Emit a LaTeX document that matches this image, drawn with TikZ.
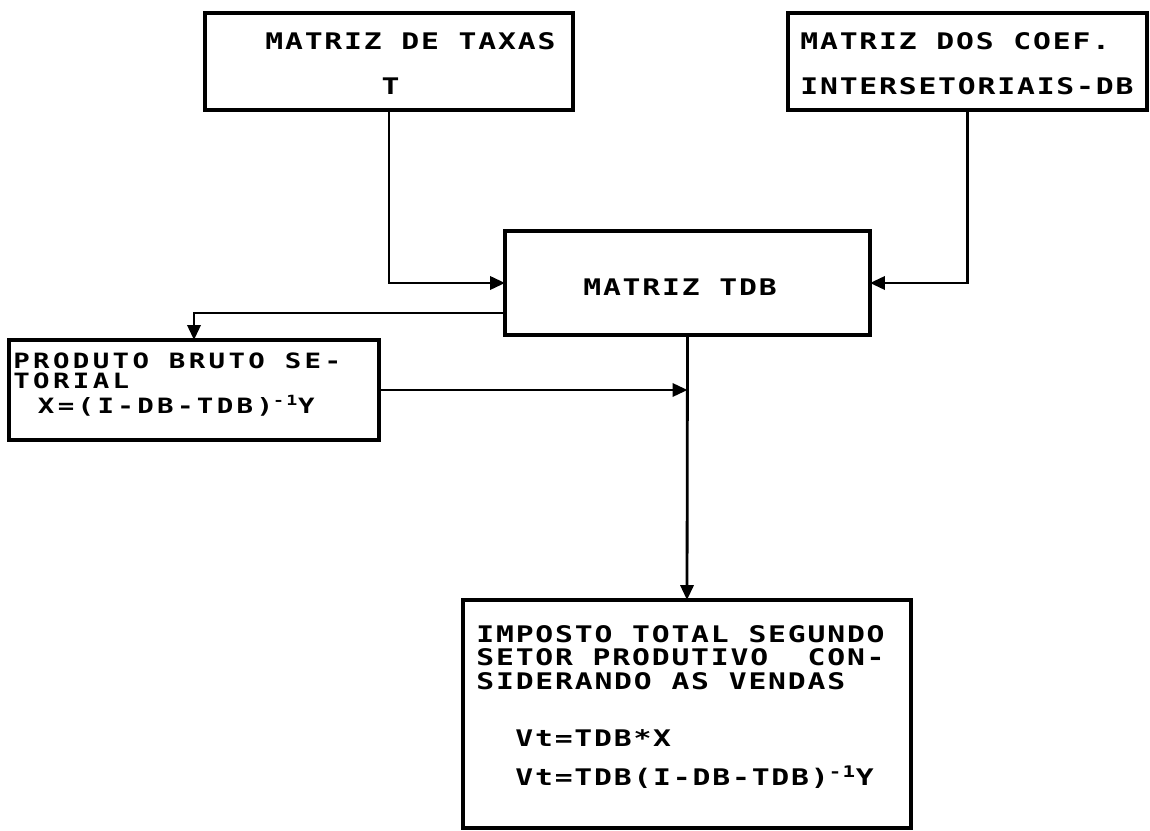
\documentclass[tikz,border=0pt]{standalone}
\usepackage{fontspec}
\usetikzlibrary{arrows.meta}
\newfontfamily\termfont[FakeStretch=1.3,LetterSpace=8]{DejaVu Sans Mono}
\newfontfamily\termwide[FakeStretch=1.3,LetterSpace=16]{DejaVu Sans Mono}

\tikzset{
  box/.style={draw, rectangle, line width=2.2pt, inner sep=0pt, outer sep=0pt},
  txt/.style={inner sep=0pt, align=left, font=\termfont\bfseries\fontsize{13}{#1}\selectfont},
  txt/.default=16,
  flow/.style={line width=1.6pt, -{Triangle[length=8.5pt,width=7.5pt]}},
}

\begin{document}
\begin{tikzpicture}[x=0.02cm, y=-0.02cm]
    \useasboundingbox (0,0) rectangle (1150,831);

    % Input matrices
    \node[box, minimum width=7.36cm, minimum height=1.94cm] (T) at (389,61.5) {};
    \node[txt=25.6, anchor=north west] (Ttext) at (265,32) {MATRIZ DE TAXAS\\\phantom{MATRIZ}T};
    \node[box, minimum width=7.18cm, minimum height=1.94cm] (DB) at (967.5,61.5) {};
    \node[txt=25.6, anchor=north west] (DBtext) at (800,32) {MATRIZ DOS COEF.\\INTERSETORIAIS-DB};

    % Product matrix
    \node[box, minimum width=7.3cm, minimum height=2.08cm] (TDB) at (687.5,283) {};
    \node[txt] (TDBtext) at (680,287) {MATRIZ TDB};

    % Gross product
    \node[box, minimum width=7.4cm, minimum height=2cm] (PB) at (194,390) {};
    \node[txt, anchor=north west, font=\termwide\bfseries\fontsize{12}{11.6}\selectfont] (PBtext) at (13,352)
        {PRODUTO BRUTO SE-\\TORIAL\\[2.5pt]\hspace*{14pt}X=(I-DB-TDB)\textsuperscript{-1}Y};

    % Total tax
    \node[box, minimum width=8.96cm, minimum height=4.56cm] (Imp) at (687,714) {};
    \node[txt=13.4, anchor=north west] (Imptext) at (476,625) {IMPOSTO TOTAL SEGUNDO\\SETOR PRODUTIVO~~CON-\\SIDERANDO AS VENDAS};
    \node[txt=22.2, anchor=north west] (Vttext) at (515,729) {Vt=TDB*X\\Vt=TDB(I-DB-TDB)\textsuperscript{-1}Y};

    % Flow
    \draw[flow] (T.south) |- (TDB.west);
    \draw[flow] (DB.south) |- (TDB.east);
    \draw[flow] ([yshift=-0.6cm]TDB.west) -| (PB.north);
    \draw[flow] (PB.east) -- (PB.east -| TDB.south);
    \draw[flow] (TDB.south) -- (Imp.north);
\end{tikzpicture}
\end{document}
